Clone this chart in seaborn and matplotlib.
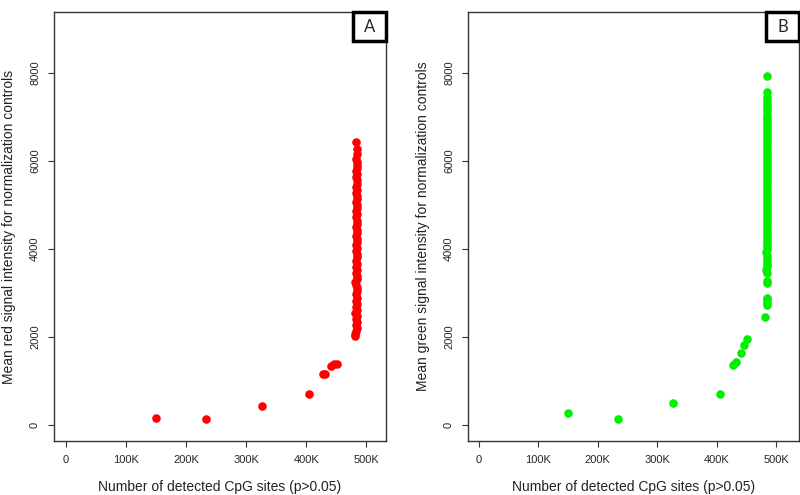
import matplotlib
matplotlib.use("Agg")
import matplotlib.pyplot as plt
import matplotlib.patches as patches
import seaborn as sns
import pandas as pd

# Panel A - red channel
red_x = [150000, 234000, 326000, 405000, 428000, 432000, 441000, 446000, 451000]
red_y = [170, 150, 430, 710, 1160, 1170, 1350, 1380, 1390]
red_col_x = [481000, 482000, 483000, 484000, 482500, 485000, 483000, 484500, 482000, 485500,
             483500, 484000, 482500, 485000, 483000, 484500, 485500, 483500, 482000, 484000,
             485000, 483000, 484500, 482500, 485500, 483500, 484000, 485000, 483000, 484500,
             483500, 485000, 484000, 483000, 484500, 485500, 483500, 484000, 485000, 483000,
             484500, 483500, 485000, 484000, 483000, 484500, 485000, 483500, 484000, 483000,
             484500, 485000, 483500, 484000, 483000, 484500, 485000, 484000, 483500, 484500,
             484000, 483500]
red_col_y = [2030, 2080, 2140, 2200, 2270, 2340, 2410, 2480, 2550, 2620,
             2690, 2760, 2830, 2900, 2970, 3040, 3110, 3180, 3250, 3320,
             3390, 3460, 3530, 3600, 3670, 3740, 3810, 3880, 3950, 4020,
             4090, 4160, 4230, 4300, 4370, 4440, 4510, 4580, 4650, 4720,
             4790, 4860, 4930, 5000, 5070, 5140, 5210, 5280, 5350, 5420,
             5490, 5560, 5630, 5700, 5770, 5840, 5910, 5980, 6050, 6150,
             6280, 6430]

# Panel B - green channel
green_x = [149000, 234000, 326000, 406000, 428000, 433000, 441000, 446000, 451000, 481000]
green_y = [270, 145, 500, 700, 1365, 1425, 1650, 1820, 1950, 2460]
green_col_x = [484000, 485000, 484500, 485500, 484000, 485000, 484500, 483500, 485500, 484000,
               485000, 484500, 483500, 485500, 484000, 485000, 484500, 485500, 484000, 485000,
               484500, 485500, 484000, 485000, 484500, 485500, 484000, 485000, 484500, 485500,
               484000, 485000, 484500, 485500, 484000, 485000, 484500, 485500, 484000, 485000,
               484500, 485500, 484000, 485000, 484500, 485500, 484000, 485000, 484500, 485500,
               484000, 485000, 484500, 485500, 484000, 485000, 484500, 485500, 484000, 485000,
               484500, 485000, 484500, 485000, 484500]
green_col_y = [2720, 2780, 2840, 2890, 3230, 3280, 3450, 3530, 3610, 3690,
               3770, 3850, 3930, 4000, 4070, 4140, 4210, 4280, 4350, 4420,
               4490, 4560, 4630, 4700, 4770, 4840, 4910, 4980, 5050, 5120,
               5190, 5260, 5330, 5400, 5470, 5540, 5610, 5680, 5750, 5820,
               5890, 5960, 6030, 6100, 6170, 6240, 6310, 6380, 6450, 6520,
               6590, 6660, 6730, 6800, 6870, 6940, 7010, 7080, 7150, 7220,
               7290, 7360, 7450, 7560, 7930]

x_ticks = [0, 100000, 200000, 300000, 400000, 500000]
x_labels = ["0", "100K", "200K", "300K", "400K", "500K"]
y_ticks = [0, 2000, 4000, 6000, 8000]

df_red = pd.DataFrame({"sites": red_x + red_col_x, "signal": red_y + red_col_y})
df_green = pd.DataFrame({"sites": green_x + green_col_x, "signal": green_y + green_col_y})

sns.set_style("white")
plt.rcParams["font.family"] = ["Liberation Sans", "DejaVu Sans"]

fig = plt.figure(figsize=(8, 4.95), dpi=100)
ax1 = fig.add_axes([0.0675, 0.109, 0.415, 0.867])
ax2 = fig.add_axes([0.585, 0.109, 0.414, 0.867])

panels = [
    (ax1, df_red, "#ff0000", "Mean red signal intensity for normalization controls", "A", (-20000, 533000)),
    (ax2, df_green, "#00f000", "Mean green signal intensity for normalization controls", "B", (-18500, 539000)),
]

for ax, df, color, ylab, tag, xlim in panels:
    sns.scatterplot(data=df, x="sites", y="signal", ax=ax, color=color,
                    s=38, linewidth=0, alpha=1, legend=False)
    ax.set_xlim(*xlim)
    ax.set_ylim(-360, 9390)
    ax.set_xticks(x_ticks)
    ax.set_xticklabels(x_labels, fontsize=8)
    ax.set_yticks(y_ticks)
    ax.set_yticklabels([str(t) for t in y_ticks], fontsize=8, rotation=90, va="center")
    ax.tick_params(axis="both", direction="out", length=4, width=0.8, color="#333333",
                   left=True, bottom=True, pad=6)
    ax.set_xlabel("Number of detected CpG sites (p>0.05)", fontsize=10, color="#222222", labelpad=11)
    ax.set_ylabel(ylab, fontsize=10, color="#222222", labelpad=10)
    for sp in ax.spines.values():
        sp.set_color("#333333")
        sp.set_linewidth(1)
    # panel tag box in the top right corner
    box = patches.Rectangle((0.9, 0.931), 0.1, 0.069, transform=ax.transAxes,
                            fill=True, facecolor="white", edgecolor="black", linewidth=2.5,
                            clip_on=False, zorder=5)
    ax.add_patch(box)
    ax.text(0.95, 0.9655, tag, transform=ax.transAxes, ha="center", va="center",
            fontsize=12, zorder=6, family=["Lato", "DejaVu Sans"])

fig.savefig("out.png", dpi=100)
